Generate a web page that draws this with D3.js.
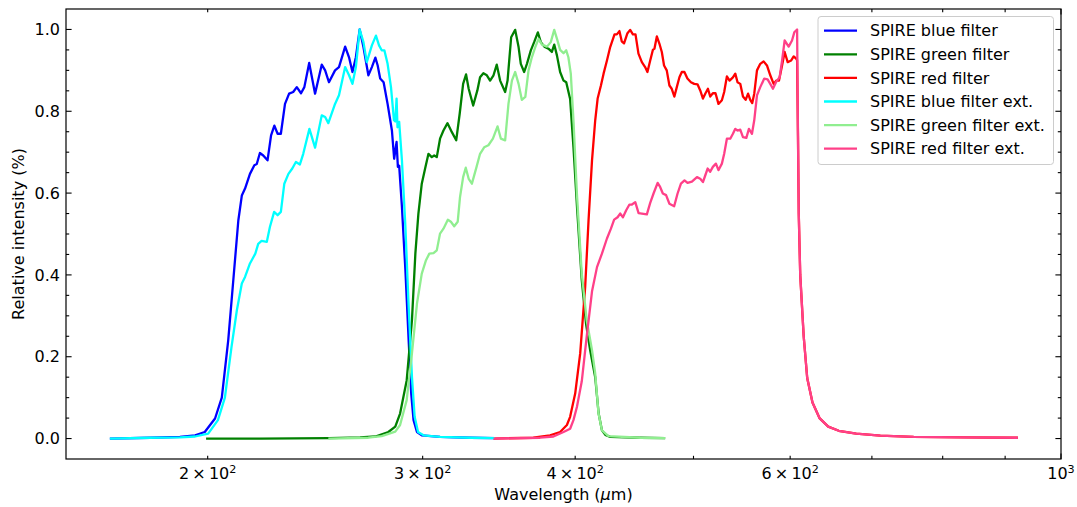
<!DOCTYPE html>
<html><head><meta charset="utf-8">
<script src="https://cdn.jsdelivr.net/npm/d3@7"></script>
<style>
body{margin:0;background:#fff}
svg{display:block}
text{font-family:"DejaVu Sans",sans-serif;fill:#000}
</style>
</head><body>
<svg id="chart" width="1077" height="507"></svg>
<script>
// ---- data: [wavelength (um), relative intensity] ----
const blueFilter = [[166.3,0],[179.4,0.002],[189.8,0.004],[195.3,0.008],[198.9,0.016],[202.8,0.049],[205.4,0.10],[207.9,0.24],[209.9,0.387],[211.9,0.533],[213.3,0.594],[214.6,0.611],[216.6,0.647],[218.4,0.668],[219.4,0.671],[220.7,0.698],[222.1,0.692],[223.9,0.680],[225.4,0.741],[226.8,0.765],[228.2,0.745],[229.6,0.745],[231.4,0.818],[233.2,0.843],[235.0,0.847],[236.6,0.859],[238.5,0.844],[240.0,0.859],[242.2,0.918],[244.9,0.843],[248.0,0.914],[249.6,0.900],[251.4,0.871],[254.3,0.900],[256.2,0.908],[259.2,0.958],[261.1,0.932],[262.8,0.896],[264.5,0.932],[266.4,1.0],[268.3,0.957],[270.8,0.888],[272.6,0.908],[274.4,0.931],[275.6,0.912],[276.9,0.880],[278.7,0.871],[280.8,0.818],[283.1,0.753],[284.3,0.684],[285.6,0.725],[286.3,0.664],[287.0,0.667],[288.5,0.566],[290.4,0.411],[292.1,0.248],[293.6,0.110],[294.9,0.045],[296.8,0.016],[299.5,0.008],[310.0,0.004],[328.1,0.002],[343.9,0.001]];
const greenFilter = [[199.4,0],[220.7,0],[251.4,0.001],[266.6,0.003],[274.4,0.005],[281.2,0.016],[284.9,0.029],[287.5,0.061],[291.1,0.142],[294.0,0.289],[295.9,0.452],[297.6,0.550],[299.5,0.623],[301.4,0.660],[303.3,0.696],[305.2,0.688],[306.6,0.692],[308.1,0.688],[310.0,0.733],[312.0,0.753],[314.4,0.771],[317.0,0.749],[319.6,0.729],[321.7,0.794],[323.8,0.867],[325.6,0.890],[327.2,0.855],[330.0,0.814],[332.6,0.851],[334.3,0.883],[336.4,0.893],[338.6,0.888],[340.7,0.875],[342.9,0.888],[345.0,0.914],[347.2,0.875],[350.5,0.847],[352.1,0.875],[354.5,0.981],[357.2,0.999],[359.5,0.957],[361.0,0.916],[363.3,0.896],[365.2,0.916],[367.9,0.949],[370.2,0.969],[372.8,0.993],[374.9,0.969],[377.4,0.958],[380.3,0.953],[382.8,0.945],[384.5,0.963],[386.5,0.936],[388.8,0.896],[391.3,0.875],[393.3,0.871],[396.2,0.830],[398.7,0.712],[401.5,0.560],[405.0,0.387],[408.3,0.280],[411.5,0.215],[415.4,0.150],[418.1,0.061],[420.7,0.020],[423.4,0.009],[427.3,0.004],[452.2,0.002],[474.0,0.001]];
const redFilter = [[342.9,0],[369.6,0.002],[381.5,0.008],[388.8,0.016],[393.8,0.033],[396.2,0.053],[400.0,0.110],[403.8,0.208],[407.6,0.370],[410.2,0.533],[412.9,0.680],[415.4,0.778],[417.3,0.831],[419.9,0.863],[422.0,0.892],[424.7,0.924],[427.3,0.957],[430.8,0.988],[432.7,0.988],[434.8,0.996],[436.7,0.971],[438.6,0.966],[441.3,0.990],[443.7,0.999],[446.0,0.988],[448.2,0.988],[450.7,0.941],[453.6,0.920],[456.4,0.908],[458.4,0.896],[460.8,0.924],[463.1,0.950],[464.5,0.953],[466.6,0.983],[468.9,0.965],[471.0,0.945],[473.0,0.912],[475.4,0.900],[477.8,0.863],[479.9,0.855],[482.3,0.836],[484.5,0.859],[486.9,0.883],[489.1,0.896],[491.5,0.896],[494.3,0.880],[497.6,0.871],[500.7,0.867],[503.8,0.866],[506.4,0.851],[509.0,0.831],[511.2,0.843],[513.8,0.855],[516.0,0.836],[518.6,0.844],[521.2,0.844],[524.1,0.818],[527.5,0.827],[529.8,0.847],[532.5,0.885],[535.2,0.875],[538.6,0.883],[541.0,0.892],[543.3,0.871],[546.1,0.867],[548.9,0.836],[551.7,0.828],[554.2,0.843],[556.5,0.828],[558.6,0.820],[560.7,0.843],[563.6,0.900],[567.1,0.916],[570.7,0.922],[574.3,0.912],[577.9,0.888],[581.6,0.867],[584.6,0.875],[587.5,0.875],[590.9,0.912],[593.8,0.945],[597.2,0.920],[601.0,0.924],[604.0,0.934],[607.1,0.928],[607.9,0.925],[608.9,0.74],[609.8,0.55],[611.5,0.40],[615.5,0.25],[619.6,0.148],[625.8,0.088],[634.1,0.050],[644.7,0.029],[657.6,0.019],[679.6,0.012],[711.2,0.007],[757.4,0.004],[832.3,0.003],[922.0,0.002]];
const blueFilterExt = [[166.3,0],[179.4,0.002],[189.8,0.003],[195.3,0.005],[200.2,0.012],[203.9,0.045],[206.6,0.10],[209.2,0.224],[211.3,0.313],[213.3,0.379],[214.6,0.395],[216.6,0.428],[218.8,0.452],[220.0,0.476],[221.4,0.483],[223.6,0.481],[224.9,0.517],[226.7,0.554],[228.2,0.546],[229.6,0.554],[231.1,0.623],[232.9,0.647],[234.6,0.660],[236.2,0.676],[238.0,0.670],[239.5,0.696],[242.3,0.757],[244.9,0.711],[248.0,0.790],[249.6,0.786],[251.1,0.771],[254.3,0.818],[256.2,0.839],[259.2,0.908],[261.1,0.888],[262.8,0.867],[264.5,0.908],[266.4,1.0],[268.3,0.969],[270.0,0.920],[272.6,0.961],[274.7,0.985],[276.3,0.961],[277.7,0.949],[279.1,0.949],[280.8,0.916],[282.6,0.859],[284.2,0.778],[284.9,0.775],[285.6,0.831],[286.1,0.761],[287.0,0.774],[288.5,0.680],[290.4,0.517],[292.1,0.330],[294.0,0.151],[295.5,0.053],[297.4,0.016],[300.5,0.008],[310.0,0.004],[328.1,0.002],[343.9,0.001]];
const greenFilterExt = [[251.1,0],[270.7,0.002],[277.7,0.006],[284.9,0.017],[287.5,0.033],[291.1,0.094],[294.0,0.208],[296.8,0.330],[299.5,0.403],[301.9,0.436],[303.8,0.452],[306.2,0.453],[308.1,0.460],[310.0,0.501],[312.0,0.513],[314.6,0.535],[316.4,0.530],[318.4,0.519],[320.5,0.530],[321.9,0.590],[323.8,0.639],[325.4,0.662],[327.2,0.635],[329.2,0.623],[332.1,0.664],[334.3,0.696],[336.9,0.712],[339.6,0.717],[342.5,0.733],[345.5,0.763],[347.7,0.733],[350.5,0.729],[352.7,0.818],[355.0,0.875],[357.2,0.896],[359.5,0.867],[361.7,0.828],[364.1,0.835],[366.3,0.900],[368.6,0.932],[371.0,0.957],[373.3,0.977],[375.7,0.963],[379.3,0.958],[382.0,0.969],[384.5,0.999],[386.5,0.977],[388.8,0.950],[391.3,0.942],[393.3,0.949],[394.9,0.932],[396.7,0.892],[398.7,0.778],[401.3,0.599],[405.0,0.403],[408.8,0.289],[412.9,0.216],[415.4,0.159],[418.0,0.061],[420.7,0.020],[425.9,0.006],[452.2,0.002],[474.0,0.001]];
const redFilterExt = [[342.9,0],[374.4,0.002],[383.9,0.005],[391.3,0.016],[396.2,0.024],[398.7,0.045],[401.3,0.077],[405.0,0.14],[408.8,0.25],[412.9,0.36],[416.8,0.419],[420.7,0.452],[424.7,0.489],[427.9,0.513],[430.5,0.535],[433.3,0.541],[435.4,0.550],[437.7,0.541],[440.4,0.558],[443.1,0.572],[445.2,0.572],[448.0,0.578],[450.8,0.551],[453.6,0.550],[457.9,0.548],[460.8,0.576],[463.7,0.599],[467.3,0.625],[469.5,0.615],[471.9,0.599],[474.8,0.595],[477.8,0.574],[482.1,0.568],[485.2,0.599],[488.3,0.623],[491.6,0.631],[494.4,0.625],[498.5,0.628],[503.3,0.639],[506.4,0.635],[509.0,0.627],[511.2,0.643],[513.5,0.660],[516.0,0.652],[518.6,0.664],[521.6,0.672],[524.1,0.656],[527.5,0.672],[529.8,0.696],[532.5,0.733],[535.9,0.733],[538.6,0.745],[541.0,0.757],[543.3,0.753],[546.1,0.755],[548.9,0.737],[552.4,0.735],[555.1,0.757],[558.3,0.745],[560.7,0.778],[563.6,0.839],[567.1,0.859],[571.4,0.880],[575.0,0.878],[577.9,0.867],[580.8,0.855],[584.6,0.873],[588.2,0.883],[590.9,0.924],[593.8,0.973],[598.3,0.958],[602.1,0.973],[604.7,0.993],[607.9,1.0],[608.9,0.75],[609.8,0.55],[611.5,0.40],[615.5,0.25],[619.6,0.148],[625.8,0.088],[634.1,0.050],[644.7,0.029],[657.6,0.019],[679.6,0.012],[711.2,0.007],[757.4,0.004],[832.3,0.003],[922.0,0.002]];

const seriesLabels = ["SPIRE blue filter","SPIRE green filter","SPIRE red filter","SPIRE blue filter ext.","SPIRE green filter ext.","SPIRE red filter ext."];
const seriesData = [blueFilter, greenFilter, redFilter, blueFilterExt, greenFilterExt, redFilterExt];
const seriesColors = ["#0000ff","#008000","#ff0000","#00ffff","#90ee90","#ff4088"];

const xLabelTicks = [200, 300, 400, 600, 1000];
const xMinorTicks = [200, 300, 400, 500, 600, 700, 800, 900];
const xMajorTicks = [1000];
const yMajorTicks = [0, 0.2, 0.4, 0.6, 0.8, 1.0];
const yMinorTicks = [0.05,0.1,0.15,0.25,0.3,0.35,0.45,0.5,0.55,0.65,0.7,0.75,0.85,0.9,0.95];
const xTitle = "Wavelength (";
const yTitle = "Relative intensity (%)";

// ---- layout ----
const L = 66, R = 1061, T = 9, B = 459;
const FS = 16;
const svg = d3.select("#chart");

const x = d3.scaleLog().domain([153.1, 1000]).range([L, R]);
const y = d3.scaleLinear().domain([-0.05, 1.05]).range([B, T]);

// lines
const line = d3.line().x(d => x(d[0])).y(d => y(d[1]));
const g = svg.append("g");
seriesData.forEach((s, i) => {
  g.append("path").datum(s).attr("d", line)
    .attr("fill", "none").attr("stroke", seriesColors[i])
    .attr("stroke-width", 2.3).attr("stroke-linejoin", "round").attr("stroke-linecap", "butt");
});

// ticks (inward, all four sides)
const tk = svg.append("g").attr("stroke", "#000").attr("stroke-width", 1.1);
const majL = 5.6, minL = 3.2;
function xt(v, len) {
  tk.append("line").attr("x1", x(v)).attr("x2", x(v)).attr("y1", B).attr("y2", B - len);
  tk.append("line").attr("x1", x(v)).attr("x2", x(v)).attr("y1", T).attr("y2", T + len);
}
function yt(v, len) {
  tk.append("line").attr("y1", y(v)).attr("y2", y(v)).attr("x1", L).attr("x2", L + len);
  tk.append("line").attr("y1", y(v)).attr("y2", y(v)).attr("x1", R).attr("x2", R - len);
}
xMinorTicks.forEach(v => xt(v, minL));
xMajorTicks.forEach(v => xt(v, majL));
yMinorTicks.forEach(v => yt(v, minL));
yMajorTicks.forEach(v => yt(v, majL));

// frame
svg.append("rect").attr("x", L).attr("y", T).attr("width", R - L).attr("height", B - T)
  .attr("fill", "none").attr("stroke", "#000").attr("stroke-width", 1.2);

// x tick labels (mathtext style)
xLabelTicks.forEach(v => {
  const e = Math.floor(Math.log10(v) + 1e-9);
  const m = Math.round(v / Math.pow(10, e));
  const t = svg.append("text").attr("x", x(v)).attr("y", B + 20).attr("text-anchor", "middle")
    .attr("font-size", FS);
  t.append("tspan").text(m === 1 ? "10" : m + "\u2009\u00d7\u200910");
  t.append("tspan").attr("dy", -6).attr("font-size", FS * 0.7).text(String(e));
});

// y tick labels
yMajorTicks.forEach(v => {
  svg.append("text").attr("x", L - 6).attr("y", y(v)).attr("dy", "0.36em")
    .attr("text-anchor", "end").attr("font-size", FS).text(v.toFixed(1));
});

// axis titles
const xt2 = svg.append("text").attr("x", (L + R) / 2).attr("y", 500).attr("text-anchor", "middle").attr("font-size", FS);
xt2.append("tspan").text(xTitle);
xt2.append("tspan").attr("font-style", "italic").text("\u03bc");
xt2.append("tspan").text("m)");
svg.append("text").attr("transform", `translate(24,${(T + B) / 2}) rotate(-90)`)
  .attr("text-anchor", "middle").attr("font-size", FS).text(yTitle);

// legend
const lg = svg.append("g");
lg.append("rect").attr("x", 818).attr("y", 16.5).attr("width", 235.5).attr("height", 148).attr("rx", 3)
  .attr("fill", "#fff").attr("fill-opacity", 0.8).attr("stroke", "#cccccc").attr("stroke-width", 1);
seriesLabels.forEach((lab, i) => {
  const cy = 30.7 + i * 23.6;
  lg.append("line").attr("x1", 824).attr("x2", 857).attr("y1", cy).attr("y2", cy)
    .attr("stroke", seriesColors[i]).attr("stroke-width", 2.3);
  lg.append("text").attr("x", 870).attr("y", cy).attr("dy", "0.36em").attr("font-size", FS).text(lab);
});
</script>
</body></html>
